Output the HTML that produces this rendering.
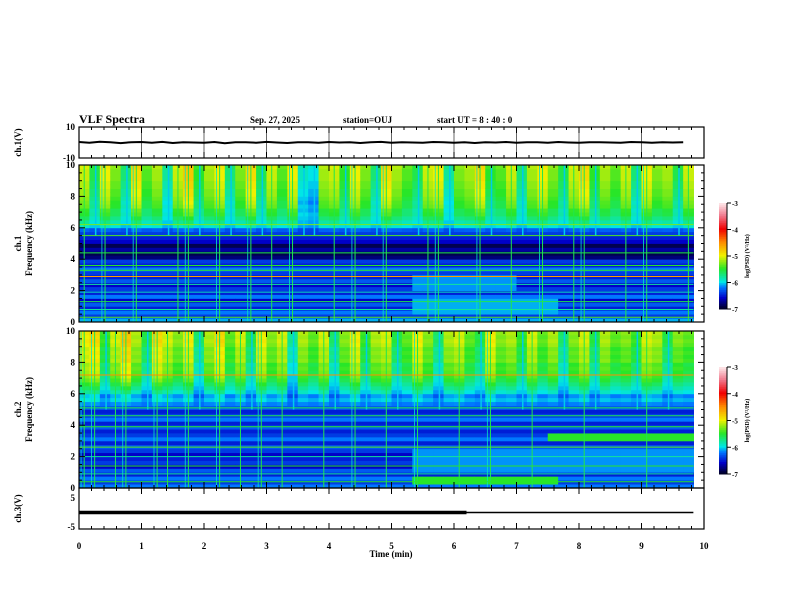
<!DOCTYPE html>
<html><head><meta charset="utf-8">
<style>
body{margin:0;background:#fff;}
svg{display:block;font-family:"Liberation Serif",serif;font-weight:bold;}
</style></head>
<body>
<svg id="chart" width="792" height="612" viewBox="0 0 792 612">
<text x="79" y="123" font-size="12">VLF Spectra</text>
<text x="250" y="123" font-size="9">Sep. 27, 2025</text>
<text x="343" y="123" font-size="9">station=OUJ</text>
<text x="437" y="123" font-size="9">start  UT  =   8  : 40 : 0</text>
<g id="g"></g>
</svg>
<script>
// ---- data ----
const timeTicks = [0,1,2,3,4,5,6,7,8,9,10];
const freqTicks = [0,2,4,6,8,10];
const colorTicks = [-3,-4,-5,-6,-7];
// per 0.25 kHz band base log(PSD), from 0 kHz upwards (40 bands)
const freqBase1 = [-6.1,-6.4,-6.2,-6.5,-6.3,-6.6,-6.2,-6.5,-6.4,-6.6,-6.3,-6.5,-6.4,-6.2,-6.5,-6.4,-6.8,-6.9,-6.7,-6.9,-6.6,-6.5,-6.4,-6.3,-6.0,-5.9,-5.8,-5.7,-5.7,-5.6,-5.6,-5.55,-5.5,-5.5,-5.45,-5.45,-5.4,-5.4,-5.4,-5.35];
const freqBase2 = [-6.2,-6.4,-6.2,-6.5,-6.3,-6.6,-6.4,-6.5,-6.6,-6.4,-6.3,-6.5,-6.2,-6.4,-6.5,-6.3,-6.5,-6.2,-6.4,-6.5,-6.3,-6.2,-6.1,-6.2,-6.0,-5.9,-5.8,-5.7,-5.65,-5.6,-5.55,-5.6,-5.45,-5.5,-5.45,-5.5,-5.4,-5.35,-5.4,-5.35];
// per 10 s column activity (whistler/sferic bursts), 59 columns
const activity1 = [0.3,-0.2,0.4,0.1,-0.3,0.5,0.0,0.2,-0.4,0.3,0.6,-0.1,0.2,0.4,-0.3,0.1,0.5,-0.2,0.3,0.0,0.4,-0.5,-0.6,0.2,0.3,-0.1,0.4,0.1,-0.3,0.5,0.2,0.0,-0.2,0.3,0.4,-0.4,0.1,0.2,0.5,-0.1,0.0,0.3,-0.3,0.2,0.4,0.1,-0.2,0.3,0.5,-0.1,0.2,0.0,0.3,-0.3,0.4,0.1,0.2,-0.2,0.3];
const activity2 = [0.4,0.5,-0.1,0.3,0.6,0.2,-0.2,0.5,0.3,0.1,0.4,-0.3,0.2,0.5,0.0,0.3,-0.2,0.4,0.1,0.3,-0.4,0.2,0.0,0.3,-0.3,0.1,0.4,-0.1,0.2,0.3,-0.2,0.0,0.4,0.1,-0.3,0.2,0.3,0.0,-0.2,0.4,0.1,0.2,-0.1,0.3,0.0,0.2,-0.3,0.1,0.3,-0.2,0.2,0.0,0.1,-0.1,0.3,0.2,-0.2,0.1,0.0];
// enhanced regions: [tStart(min), tEnd(min), fLow(kHz), fHigh(kHz), level]
const regions1 = [[5.3,7.7,0.5,1.5,-6.1],[5.3,7.0,2.0,3.0,-6.15]];
const regions2 = [[5.3,7.7,0.1,0.6,-5.5],[5.3,9.83,1.0,2.5,-6.15],[7.4,9.83,2.8,3.5,-5.5]];
// horizontal interference lines [freq kHz, level]
const lines1 = [[0.3,-5.4],[0.8,-5.8],[1.3,-5.6],[1.9,-5.9],[2.4,-5.8],[2.9,-4.6],[3.3,-5.5],[3.6,-5.5],[4.4,-5.6],[5.5,-5.4],[6.2,-5.3]];
const lines2 = [[0.4,-5.5],[0.9,-5.8],[1.4,-5.5],[2.0,-5.8],[2.6,-5.4],[3.9,-5.5],[4.6,-5.6],[5.1,-5.6],[7.2,-4.5]];
// ch1 waveform (V), per 10 s
const ch1Vals = [0.3,-0.2,0.5,0.1,-0.4,0.2,0.3,-0.1,0.4,-0.3,0.2,0.0,-0.2,0.3,-0.5,0.1,0.2,-0.1,0.4,0.0,-0.3,0.2,0.1,-0.2,0.3,0.0,0.1,-0.3,0.2,0.4,-0.1,0.2,0.0,-0.2,0.3,0.1,-0.1,0.2,-0.3,0.1,0.0,0.3,-0.2,0.1,0.2,-0.1,0.3,0.0,-0.2,0.1,0.2,0.0,-0.1,0.3,0.1,-0.2,0.2,0.0,0.1];
const ch3Level = 0.0;
const ch3Thick = [0,6.2];

// ---- layout ----
const X0=79,X1=704;
const sx=t=>X0+(X1-X0)*t/10;
const NS='http://www.w3.org/2000/svg';
const g=document.getElementById('g');
function mk(tag,attrs,parent){const e=document.createElementNS(NS,tag);for(const k in attrs)e.setAttribute(k,attrs[k]);(parent||g).appendChild(e);return e;}
function cmap(v){
  const stops=[[-7,[0,0,40]],[-6.6,[0,0,200]],[-6.2,[0,120,255]],[-6.0,[0,230,230]],[-5.5,[40,230,40]],[-5.0,[240,240,0]],[-4.5,[255,140,0]],[-4.0,[240,0,0]],[-3.5,[240,120,140]],[-3,[255,240,240]]];
  if(v<=-7)return 'rgb(0,0,40)'; if(v>=-3)return 'rgb(255,240,240)';
  for(let i=0;i<stops.length-1;i++){const a=stops[i],b=stops[i+1];if(v<=b[0]){const f=(v-a[0])/(b[0]-a[0]);const c=a[1].map((x,j)=>Math.round(x+(b[1][j]-x)*f));return `rgb(${c})`;}}
}
function xTicks(y0,y1,grid){
  for(let i=0;i<=50;i++){const t=i*0.2,x=sx(t),L=(i%5==0)?6:3;
    mk('line',{x1:x,y1:y0,x2:x,y2:y0+L,stroke:'#000','stroke-width':1});
    mk('line',{x1:x,y1:y1,x2:x,y2:y1-L,stroke:'#000','stroke-width':1});}
  if(grid)for(const t of timeTicks){const x=sx(t);mk('line',{x1:x,y1:y0,x2:x,y2:y1,stroke:'#000','stroke-width':0.6});}
}
function frame(y0,y1,name){const r=mk('rect',{x:X0,y:y0,width:X1-X0,height:y1-y0,fill:'none',stroke:'#000','stroke-width':1.2});}
function spectro(y0,y1,base,act,regions,lines,idx,cbY0,cbY1,fAct){
  const sy=f=>y1-(y1-y0)*f/10;
  const grp=mk('g',{});
  const nT=act.length,dt=10/60;
  for(let c=0;c<nT;c++){
    const t0=c*dt,t1=t0+dt;
    for(let r=0;r<base.length;r++){
      const f=r*0.25;
      let v=base[r];
      if(f>=fAct) v+=act[c]*Math.min(1,(f-fAct)/2);
      for(const R of regions){if(t0+1e-6>=R[0]&&t1<=R[1]+0.1&&f>=R[2]&&f<R[3])v=Math.max(v,R[4]);}
      mk('rect',{x:sx(t0),y:sy(f+0.25),width:sx(t1)-sx(t0)+0.4,height:sy(f)-sy(f+0.25)+0.4,fill:cmap(v)},grp);
    }
    if(act[c]>0.25){const x=sx(t0+dt/2);mk('line',{x1:x,y1:sy(10),x2:x,y2:sy(0),stroke:cmap(-5.6),'stroke-width':1},grp);}
    if(act[c]>0.35){const x=sx(t0+dt*0.2);mk('line',{x1:x,y1:sy(10),x2:x,y2:sy(0),stroke:cmap(-5.9),'stroke-width':0.8},grp);}
    if(act[c]<0){const x=sx(t0+dt*0.6);mk('line',{x1:x,y1:sy(10),x2:x,y2:sy(fAct),stroke:cmap(-6.05),'stroke-width':1.5},grp);}
  }
  for(const L of lines){const y=sy(L[0]);mk('line',{x1:X0,y1:y,x2:sx(nT*dt),y2:y,stroke:cmap(L[1]),'stroke-width':1},grp);}
  frame(y0,y1,'spectrogram-ch'+idx+'-frame');
  xTicks(y0,y1,false);
  for(let i=0;i<=20;i++){const f=i*0.5,y=sy(f),L=(i%4==0)?6:3;
    mk('line',{x1:X0,y1:y,x2:X0+L,y2:y,stroke:'#000'});mk('line',{x1:X1,y1:y,x2:X1-L,y2:y,stroke:'#000'});}
  for(const f of freqTicks){const e=mk('text',{x:X0-4,y:sy(f)+3,'font-size':9,'text-anchor':'end'});e.textContent=f;}
  const yl=mk('text',{transform:`translate(21,${(y0+y1)/2}) rotate(-90)`,'font-size':9,'text-anchor':'middle'});
  
  yl.textContent='ch.'+idx;
  const yl2=mk('text',{transform:`translate(32,${(y0+y1)/2}) rotate(-90)`,'font-size':9,'text-anchor':'middle'});
  
  yl2.textContent='Frequency  (kHz)';
  const cb=mk('g',{});
  const n=60;for(let i=0;i<n;i++){const v=-7+4*i/n;const y=cbY1-(cbY1-cbY0)*(i+1)/n;mk('rect',{x:719,y:y,width:8,height:(cbY1-cbY0)/n+0.5,fill:cmap(v)},cb);}
  mk('line',{x1:727,y1:cbY0,x2:727,y2:cbY1,stroke:'#000'},cb);
  for(const v of colorTicks){const y=cbY1-(cbY1-cbY0)*(v+7)/4;mk('line',{x1:727,y1:y,x2:731,y2:y,stroke:'#000'},cb);
    const e=mk('text',{x:732,y:y+3,'font-size':7},cb);e.textContent=v;}
  const cl=mk('text',{transform:`translate(749,${(cbY0+cbY1)/2}) rotate(-90)`,'font-size':6,'text-anchor':'middle'},cb);
  cl.textContent='log(PSD) (V²/Hz)';
}
// ch1 waveform panel
(function(){
  const y0=127,y1=158,sv=v=>(y0+y1)/2-(y1-y0)/2*v/10;
  frame(y0,y1,'ch1-waveform-frame');xTicks(y0,y1,true);
  let d='';ch1Vals.forEach((v,i)=>{d+=(i?'L':'M')+sx(i*10/60).toFixed(1)+','+sv(v).toFixed(1);});
  const p=mk('path',{d:d,fill:'none',stroke:'#000','stroke-width':2});
  [[10,y0+3],[-10,y1+3]].forEach(a=>{const e=mk('text',{x:X0-4,y:a[1],'font-size':9,'text-anchor':'end'});e.textContent=a[0];});
  const yl=mk('text',{transform:`translate(21,${(y0+y1)/2}) rotate(-90)`,'font-size':9,'text-anchor':'middle'});yl.textContent='ch.1(V)';
  
})();
spectro(165,322,freqBase1,activity1,regions1,lines1,1,203,309,5.5);
spectro(331,488,freqBase2,activity2,regions2,lines2,2,367,474,5.0);
// ch3 panel
(function(){
  const y0=488,y1=529,sv=v=>512.5-14.5*v/5;
  frame(y0,y1,'ch3-frame');xTicks(y0,y1,false);
  const l=mk('line',{x1:X0,y1:sv(ch3Level),x2:sx(9.83),y2:sv(ch3Level),stroke:'#000','stroke-width':1.5});
  const l2=mk('line',{x1:sx(ch3Thick[0]),y1:sv(ch3Level),x2:sx(ch3Thick[1]),y2:sv(ch3Level),stroke:'#000','stroke-width':3.5});
  [[5,sv(5)+3],[-5,sv(-5)+3]].forEach(a=>{const e=mk('text',{x:X0-4,y:a[1],'font-size':9,'text-anchor':'end'});e.textContent=a[0];});
  const yl=mk('text',{transform:`translate(21,${(y0+y1)/2}) rotate(-90)`,'font-size':9,'text-anchor':'middle'});yl.textContent='ch.3(V)';
  
  for(const t of timeTicks){const e=mk('text',{x:sx(t),y:549,'font-size':9,'text-anchor':'middle'});e.textContent=t;}
  const xl=mk('text',{x:391,y:557,'font-size':9,'text-anchor':'middle'});xl.textContent='Time  (min)';
  
})();
</script>
</body></html>
